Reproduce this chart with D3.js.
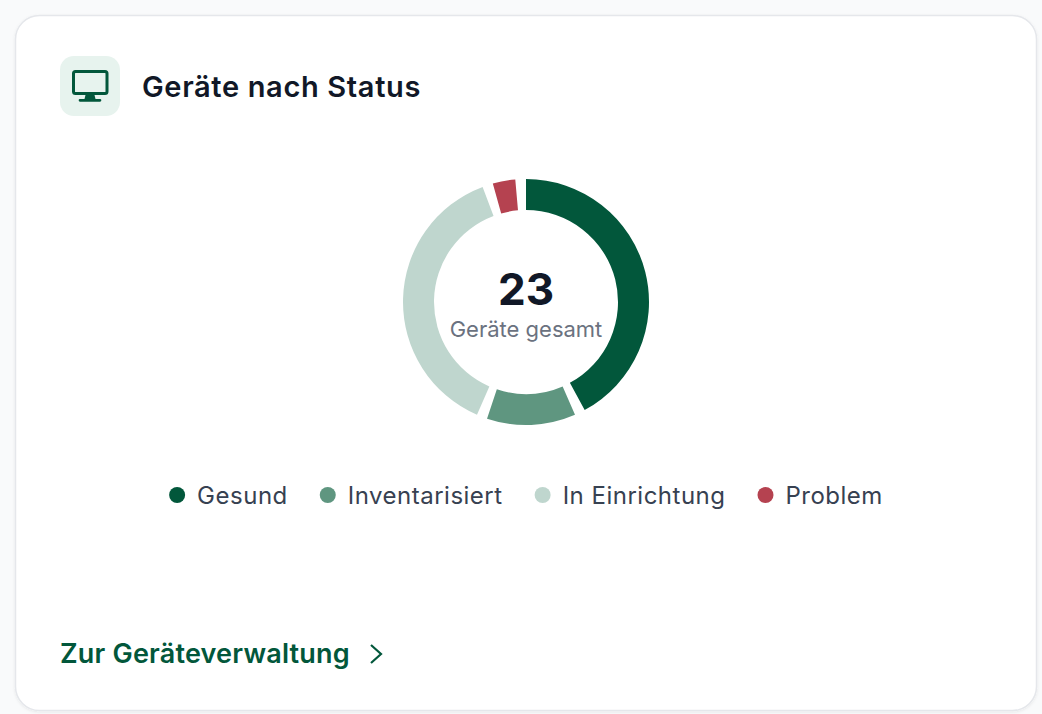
<!DOCTYPE html>
<html><head><meta charset="utf-8">
<script src="https://cdn.jsdelivr.net/npm/d3@7"></script>
<style>
html,body{margin:0;padding:0;background:#f9fafb;overflow:hidden}
svg{display:block}
text{font-family:Inter,sans-serif}
</style></head><body>
<svg id="c" width="1042" height="714"></svg>
<script>
const titleText = "Geräte nach Status";
const linkText = "Zur Geräteverwaltung";
const centerLabel = "Geräte gesamt";
const categories = ["Gesund","Inventarisiert","In Einrichtung","Problem"];
const values = [10,3,9,1];
const colors = ["#02573b","#5f9680","#bfd6ce","#b54250"];

const svg = d3.select("#c");
const defs = svg.append("defs");
const f = defs.append("filter").attr("id","sh").attr("x","-5%").attr("y","-5%").attr("width","110%").attr("height","110%");
f.append("feDropShadow").attr("dx",0).attr("dy",1).attr("stdDeviation",1.5).attr("flood-color","#000").attr("flood-opacity",0.08);

svg.append("rect").attr("x",15.5).attr("y",15.5).attr("width",1021).attr("height",695).attr("rx",24)
  .attr("fill","#fff").attr("stroke","#e5e7eb").attr("stroke-width",1.5).attr("filter","url(#sh)");

// header icon
svg.append("rect").attr("x",60).attr("y",56).attr("width",60).attr("height",60).attr("rx",14).attr("fill","#e7f3ee");
svg.append("rect").attr("x",73.5).attr("y",71.5).attr("width",33.5).attr("height",22).attr("rx",2)
  .attr("fill","none").attr("stroke","#02573b").attr("stroke-width",3);
svg.append("path").attr("d","M85.5 95h9l1 4h4.5a1.3 1.3 0 0 1 0 2.7h-20a1.3 1.3 0 0 1 0-2.7h4.5z").attr("fill","#02573b");

svg.append("text").attr("x",142).attr("y",97).attr("font-size",29).attr("font-weight",600).attr("letter-spacing",0.65).attr("fill","#111827").text(titleText);

// donut
const cx = 526, cy = 302, rO = 123, rI = 92, gap = 5 * Math.PI / 180;
const pie = d3.pie().sort(null).value(d => d)(values);
const arc = d3.arc().innerRadius(rI).outerRadius(rO);
const g = svg.append("g").attr("transform",`translate(${cx},${cy})`);
g.selectAll("path").data(pie).join("path")
  .attr("d", d => arc({startAngle:d.startAngle, endAngle:d.endAngle - gap}))
  .attr("fill",(d,i)=>colors[i]);

g.append("text").attr("text-anchor","middle").attr("y",3).attr("font-size",44).attr("font-weight",700).attr("fill","#111827").text(d3.sum(values));
g.append("text").attr("text-anchor","middle").attr("y",35).attr("font-size",22).attr("fill","#6b7280").text(centerLabel);

// legend
const leg = svg.append("g");
const items = leg.selectAll("g").data(categories).join("g");
items.append("circle").attr("r",8).attr("cy",0).attr("cx",8).attr("fill",(d,i)=>colors[i]);
items.append("text").attr("x",28).attr("y",9).attr("font-size",24).attr("letter-spacing",0.5).attr("fill","#374151").text(d=>d);
let widths = items.nodes().map(n=>n.getBBox().width);
const spacing = 32;
const total = d3.sum(widths) + spacing*(widths.length-1);
let x = cx - total/2;
items.attr("transform",(d,i)=>{const t=`translate(${x},495)`; x+=widths[i]+spacing; return t;});

// footer link
svg.append("text").attr("x",60).attr("y",663).attr("font-size",27).attr("font-weight",600).attr("letter-spacing",0.2).attr("fill","#02573b").text(linkText);
svg.append("path").attr("d","M371 645l10 9l-10 9").attr("fill","none").attr("stroke","#02573b").attr("stroke-width",2.2);
</script>
</body></html>
